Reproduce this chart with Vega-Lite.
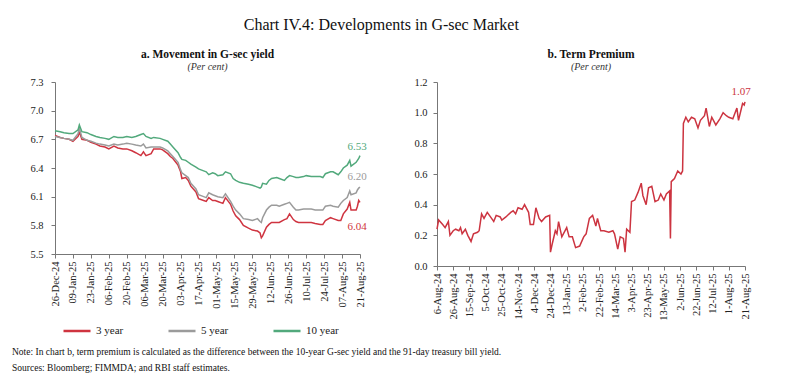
{
  "$schema": "https://vega.github.io/schema/vega-lite/v6.json",
  "background": "white",
  "padding": {"left": 12, "top": 16, "right": 5, "bottom": 2},
  "title": {"text": "Chart IV.4: Developments in G-sec Market", "font": "Liberation Serif", "fontSize": 16, "fontWeight": "normal", "color": "#111", "anchor": "middle", "offset": 16},
  "config": {
    "font": "Liberation Serif",
    "view": {"stroke": null},
    "axis": {"labelFont": "Liberation Serif", "labelFontSize": 10.5, "labelColor": "#222", "domainColor": "#777", "tickColor": "#777", "tickSize": 4, "grid": false, "title": null, "labelPadding": 3},
    "legend": {"labelFont": "Liberation Serif", "labelFontSize": 11, "labelColor": "#222"},
    "text": {"font": "Liberation Serif"}
  },
  "datasets": {
    "yields": [
      {"date": "2024-12-26", "y3": 6.74, "y5": 6.73, "y10": 6.79},
      {"date": "2024-12-30", "y3": 6.72, "y5": 6.72, "y10": 6.78},
      {"date": "2025-01-02", "y3": 6.71, "y5": 6.71, "y10": 6.77},
      {"date": "2025-01-06", "y3": 6.70, "y5": 6.70, "y10": 6.76},
      {"date": "2025-01-09", "y3": 6.68, "y5": 6.69, "y10": 6.76},
      {"date": "2025-01-13", "y3": 6.73, "y5": 6.76, "y10": 6.80},
      {"date": "2025-01-14", "y3": 6.78, "y5": 6.82, "y10": 6.85},
      {"date": "2025-01-16", "y3": 6.70, "y5": 6.72, "y10": 6.78},
      {"date": "2025-01-20", "y3": 6.69, "y5": 6.69, "y10": 6.77},
      {"date": "2025-01-23", "y3": 6.67, "y5": 6.68, "y10": 6.75},
      {"date": "2025-01-27", "y3": 6.65, "y5": 6.66, "y10": 6.73},
      {"date": "2025-01-30", "y3": 6.63, "y5": 6.65, "y10": 6.72},
      {"date": "2025-02-03", "y3": 6.62, "y5": 6.64, "y10": 6.71},
      {"date": "2025-02-06", "y3": 6.60, "y5": 6.63, "y10": 6.70},
      {"date": "2025-02-10", "y3": 6.63, "y5": 6.65, "y10": 6.73},
      {"date": "2025-02-13", "y3": 6.61, "y5": 6.64, "y10": 6.72},
      {"date": "2025-02-17", "y3": 6.60, "y5": 6.65, "y10": 6.72},
      {"date": "2025-02-20", "y3": 6.60, "y5": 6.66, "y10": 6.73},
      {"date": "2025-02-24", "y3": 6.58, "y5": 6.65, "y10": 6.72},
      {"date": "2025-02-27", "y3": 6.56, "y5": 6.64, "y10": 6.73},
      {"date": "2025-03-03", "y3": 6.53, "y5": 6.63, "y10": 6.75},
      {"date": "2025-03-05", "y3": 6.57, "y5": 6.65, "y10": 6.76},
      {"date": "2025-03-07", "y3": 6.53, "y5": 6.61, "y10": 6.73},
      {"date": "2025-03-11", "y3": 6.55, "y5": 6.62, "y10": 6.71},
      {"date": "2025-03-13", "y3": 6.60, "y5": 6.62, "y10": 6.72},
      {"date": "2025-03-18", "y3": 6.60, "y5": 6.62, "y10": 6.71},
      {"date": "2025-03-20", "y3": 6.59, "y5": 6.61, "y10": 6.70},
      {"date": "2025-03-24", "y3": 6.55, "y5": 6.58, "y10": 6.68},
      {"date": "2025-03-26", "y3": 6.52, "y5": 6.55, "y10": 6.65},
      {"date": "2025-03-28", "y3": 6.50, "y5": 6.52, "y10": 6.62},
      {"date": "2025-04-01", "y3": 6.43, "y5": 6.46, "y10": 6.56},
      {"date": "2025-04-03", "y3": 6.36, "y5": 6.38, "y10": 6.51},
      {"date": "2025-04-04", "y3": 6.29, "y5": 6.35, "y10": 6.49},
      {"date": "2025-04-07", "y3": 6.30, "y5": 6.32, "y10": 6.48},
      {"date": "2025-04-09", "y3": 6.27, "y5": 6.30, "y10": 6.46},
      {"date": "2025-04-11", "y3": 6.21, "y5": 6.24, "y10": 6.44},
      {"date": "2025-04-15", "y3": 6.15, "y5": 6.18, "y10": 6.41},
      {"date": "2025-04-17", "y3": 6.08, "y5": 6.12, "y10": 6.39},
      {"date": "2025-04-21", "y3": 6.06, "y5": 6.10, "y10": 6.37},
      {"date": "2025-04-23", "y3": 6.05, "y5": 6.09, "y10": 6.36},
      {"date": "2025-04-25", "y3": 6.09, "y5": 6.14, "y10": 6.33},
      {"date": "2025-04-28", "y3": 6.06, "y5": 6.12, "y10": 6.35},
      {"date": "2025-04-30", "y3": 6.06, "y5": 6.11, "y10": 6.34},
      {"date": "2025-05-02", "y3": 6.05, "y5": 6.10, "y10": 6.32},
      {"date": "2025-05-06", "y3": 6.03, "y5": 6.09, "y10": 6.33},
      {"date": "2025-05-08", "y3": 6.09, "y5": 6.13, "y10": 6.36},
      {"date": "2025-05-12", "y3": 6.02, "y5": 6.05, "y10": 6.34},
      {"date": "2025-05-14", "y3": 5.95, "y5": 6.00, "y10": 6.29},
      {"date": "2025-05-16", "y3": 5.90, "y5": 5.96, "y10": 6.27},
      {"date": "2025-05-19", "y3": 5.86, "y5": 5.92, "y10": 6.25},
      {"date": "2025-05-22", "y3": 5.80, "y5": 5.87, "y10": 6.24},
      {"date": "2025-05-26", "y3": 5.77, "y5": 5.86, "y10": 6.23},
      {"date": "2025-05-29", "y3": 5.75, "y5": 5.85, "y10": 6.22},
      {"date": "2025-06-02", "y3": 5.74, "y5": 5.87, "y10": 6.20},
      {"date": "2025-06-04", "y3": 5.72, "y5": 5.84, "y10": 6.19},
      {"date": "2025-06-05", "y3": 5.67, "y5": 5.83, "y10": 6.20},
      {"date": "2025-06-06", "y3": 5.69, "y5": 5.88, "y10": 6.24},
      {"date": "2025-06-09", "y3": 5.78, "y5": 5.96, "y10": 6.23},
      {"date": "2025-06-11", "y3": 5.81, "y5": 5.99, "y10": 6.27},
      {"date": "2025-06-13", "y3": 5.83, "y5": 6.01, "y10": 6.29},
      {"date": "2025-06-17", "y3": 5.83, "y5": 6.01, "y10": 6.30},
      {"date": "2025-06-19", "y3": 5.83, "y5": 6.00, "y10": 6.29},
      {"date": "2025-06-23", "y3": 5.86, "y5": 6.02, "y10": 6.27},
      {"date": "2025-06-25", "y3": 5.87, "y5": 6.03, "y10": 6.30},
      {"date": "2025-06-27", "y3": 5.92, "y5": 6.04, "y10": 6.32},
      {"date": "2025-06-30", "y3": 5.86, "y5": 5.99, "y10": 6.31},
      {"date": "2025-07-02", "y3": 5.84, "y5": 5.96, "y10": 6.30},
      {"date": "2025-07-04", "y3": 5.83, "y5": 5.96, "y10": 6.30},
      {"date": "2025-07-08", "y3": 5.83, "y5": 5.97, "y10": 6.31},
      {"date": "2025-07-10", "y3": 5.83, "y5": 5.97, "y10": 6.32},
      {"date": "2025-07-14", "y3": 5.83, "y5": 5.97, "y10": 6.31},
      {"date": "2025-07-17", "y3": 5.82, "y5": 5.96, "y10": 6.31},
      {"date": "2025-07-21", "y3": 5.81, "y5": 5.96, "y10": 6.31},
      {"date": "2025-07-23", "y3": 5.81, "y5": 5.96, "y10": 6.30},
      {"date": "2025-07-25", "y3": 5.85, "y5": 6.00, "y10": 6.34},
      {"date": "2025-07-29", "y3": 5.88, "y5": 6.01, "y10": 6.36},
      {"date": "2025-07-31", "y3": 5.87, "y5": 6.00, "y10": 6.36},
      {"date": "2025-08-04", "y3": 5.85, "y5": 5.99, "y10": 6.33},
      {"date": "2025-08-06", "y3": 5.85, "y5": 6.03, "y10": 6.36},
      {"date": "2025-08-08", "y3": 5.92, "y5": 6.06, "y10": 6.40},
      {"date": "2025-08-11", "y3": 5.97, "y5": 6.09, "y10": 6.43},
      {"date": "2025-08-13", "y3": 6.04, "y5": 6.16, "y10": 6.48},
      {"date": "2025-08-14", "y3": 5.96, "y5": 6.12, "y10": 6.42},
      {"date": "2025-08-18", "y3": 5.96, "y5": 6.14, "y10": 6.46},
      {"date": "2025-08-19", "y3": 6.00, "y5": 6.17, "y10": 6.48},
      {"date": "2025-08-20", "y3": 6.06, "y5": 6.19, "y10": 6.50},
      {"date": "2025-08-21", "y3": 6.04, "y5": 6.20, "y10": 6.53}
    ],
    "premium": [
      {"date": "2024-08-06", "tp": 0.24}, {"date": "2024-08-08", "tp": 0.30}, {"date": "2024-08-13", "tp": 0.27},
      {"date": "2024-08-16", "tp": 0.25}, {"date": "2024-08-20", "tp": 0.29}, {"date": "2024-08-22", "tp": 0.20},
      {"date": "2024-08-26", "tp": 0.23}, {"date": "2024-08-29", "tp": 0.24}, {"date": "2024-09-02", "tp": 0.23},
      {"date": "2024-09-04", "tp": 0.25}, {"date": "2024-09-06", "tp": 0.21}, {"date": "2024-09-10", "tp": 0.24},
      {"date": "2024-09-13", "tp": 0.20}, {"date": "2024-09-17", "tp": 0.16}, {"date": "2024-09-20", "tp": 0.21},
      {"date": "2024-09-25", "tp": 0.22}, {"date": "2024-09-27", "tp": 0.23}, {"date": "2024-09-30", "tp": 0.34},
      {"date": "2024-10-03", "tp": 0.31}, {"date": "2024-10-07", "tp": 0.35}, {"date": "2024-10-11", "tp": 0.32},
      {"date": "2024-10-15", "tp": 0.29}, {"date": "2024-10-18", "tp": 0.33}, {"date": "2024-10-23", "tp": 0.32},
      {"date": "2024-10-25", "tp": 0.30}, {"date": "2024-10-30", "tp": 0.32}, {"date": "2024-11-05", "tp": 0.35},
      {"date": "2024-11-08", "tp": 0.36}, {"date": "2024-11-11", "tp": 0.34}, {"date": "2024-11-14", "tp": 0.38},
      {"date": "2024-11-19", "tp": 0.37}, {"date": "2024-11-22", "tp": 0.40}, {"date": "2024-11-27", "tp": 0.35},
      {"date": "2024-11-29", "tp": 0.27}, {"date": "2024-12-03", "tp": 0.27}, {"date": "2024-12-06", "tp": 0.38},
      {"date": "2024-12-10", "tp": 0.31}, {"date": "2024-12-13", "tp": 0.29}, {"date": "2024-12-18", "tp": 0.32},
      {"date": "2024-12-23", "tp": 0.33}, {"date": "2024-12-24", "tp": 0.09}, {"date": "2024-12-26", "tp": 0.14},
      {"date": "2024-12-30", "tp": 0.23}, {"date": "2025-01-01", "tp": 0.21}, {"date": "2025-01-03", "tp": 0.29},
      {"date": "2025-01-07", "tp": 0.19}, {"date": "2025-01-13", "tp": 0.25}, {"date": "2025-01-16", "tp": 0.19},
      {"date": "2025-01-20", "tp": 0.19}, {"date": "2025-01-24", "tp": 0.12}, {"date": "2025-01-29", "tp": 0.13},
      {"date": "2025-02-03", "tp": 0.19}, {"date": "2025-02-06", "tp": 0.21}, {"date": "2025-02-10", "tp": 0.31},
      {"date": "2025-02-14", "tp": 0.33}, {"date": "2025-02-18", "tp": 0.26}, {"date": "2025-02-20", "tp": 0.31},
      {"date": "2025-02-24", "tp": 0.23}, {"date": "2025-02-28", "tp": 0.23}, {"date": "2025-03-06", "tp": 0.22},
      {"date": "2025-03-11", "tp": 0.23}, {"date": "2025-03-13", "tp": 0.21}, {"date": "2025-03-17", "tp": 0.11},
      {"date": "2025-03-20", "tp": 0.19}, {"date": "2025-03-24", "tp": 0.18}, {"date": "2025-03-26", "tp": 0.09},
      {"date": "2025-03-28", "tp": 0.24}, {"date": "2025-04-01", "tp": 0.22}, {"date": "2025-04-03", "tp": 0.42},
      {"date": "2025-04-07", "tp": 0.43}, {"date": "2025-04-11", "tp": 0.48}, {"date": "2025-04-15", "tp": 0.54},
      {"date": "2025-04-17", "tp": 0.46}, {"date": "2025-04-21", "tp": 0.40}, {"date": "2025-04-24", "tp": 0.51},
      {"date": "2025-04-28", "tp": 0.52}, {"date": "2025-05-02", "tp": 0.42}, {"date": "2025-05-06", "tp": 0.43},
      {"date": "2025-05-09", "tp": 0.47}, {"date": "2025-05-13", "tp": 0.43}, {"date": "2025-05-16", "tp": 0.47},
      {"date": "2025-05-20", "tp": 0.49}, {"date": "2025-05-21", "tp": 0.18}, {"date": "2025-05-22", "tp": 0.55},
      {"date": "2025-05-26", "tp": 0.57}, {"date": "2025-05-30", "tp": 0.62}, {"date": "2025-06-03", "tp": 0.60},
      {"date": "2025-06-05", "tp": 0.62}, {"date": "2025-06-06", "tp": 0.93}, {"date": "2025-06-09", "tp": 0.97},
      {"date": "2025-06-12", "tp": 0.94}, {"date": "2025-06-16", "tp": 0.97}, {"date": "2025-06-20", "tp": 0.96},
      {"date": "2025-06-24", "tp": 0.90}, {"date": "2025-06-27", "tp": 0.95}, {"date": "2025-07-02", "tp": 0.98},
      {"date": "2025-07-04", "tp": 1.03}, {"date": "2025-07-08", "tp": 0.91}, {"date": "2025-07-11", "tp": 0.97},
      {"date": "2025-07-16", "tp": 0.92}, {"date": "2025-07-21", "tp": 0.96}, {"date": "2025-07-25", "tp": 1.00},
      {"date": "2025-07-29", "tp": 0.98}, {"date": "2025-08-01", "tp": 0.97}, {"date": "2025-08-06", "tp": 0.96},
      {"date": "2025-08-11", "tp": 1.03}, {"date": "2025-08-13", "tp": 0.95}, {"date": "2025-08-18", "tp": 1.06},
      {"date": "2025-08-20", "tp": 1.05}, {"date": "2025-08-21", "tp": 1.07}
    ]
  },
  "resolve": {"scale": {"color": "independent"}, "legend": {"color": "independent"}},
  "vconcat": [
    {
      "title": {"text": ["Note: In chart b, term premium is calculated as the difference between the 10-year G-sec yield and the 91-day treasury bill yield.", "Sources: Bloomberg; FIMMDA; and RBI staff estimates."], "orient": "bottom", "anchor": "start", "font": "Liberation Serif", "fontSize": 9.5, "fontWeight": "normal", "color": "#111", "lineHeight": 16, "offset": 4},
      "spacing": 46,
      "resolve": {"scale": {"color": "independent"}, "legend": {"color": "independent"}},
      "hconcat": [
        {
          "width": 305,
          "height": 172,
          "title": {"text": "a. Movement in G-sec yield", "subtitle": "(Per cent)", "font": "Liberation Serif", "fontSize": 11.5, "fontWeight": "bold", "color": "#111", "subtitleFont": "Liberation Serif", "subtitleFontStyle": "italic", "subtitleFontSize": 10, "subtitleColor": "#333", "subtitlePadding": 2, "anchor": "middle", "offset": 5},
          "data": {"name": "yields"},
          "transform": [
            {"fold": ["y3", "y5", "y10"], "as": ["key", "value"]},
            {"calculate": "datum.key === 'y3' ? '3 year' : datum.key === 'y5' ? '5 year' : '10 year'", "as": "series"}
          ],
          "encoding": {
            "x": {"field": "date", "type": "temporal", "scale": {"type": "utc", "domain": [{"year": 2024, "month": 12, "date": 26, "utc": true}, {"year": 2025, "month": 8, "date": 21, "utc": true}], "nice": false},
              "axis": {"labelExpr": "utcFormat(datum.value, '%d-%b-%y')", "labelFont": "Liberation Serif", "labelAngle": -90, "values": [
                {"year": 2024, "month": 12, "date": 26, "utc": true}, {"year": 2025, "month": 1, "date": 9, "utc": true}, {"year": 2025, "month": 1, "date": 23, "utc": true},
                {"year": 2025, "month": 2, "date": 6, "utc": true}, {"year": 2025, "month": 2, "date": 20, "utc": true}, {"year": 2025, "month": 3, "date": 6, "utc": true},
                {"year": 2025, "month": 3, "date": 20, "utc": true}, {"year": 2025, "month": 4, "date": 3, "utc": true}, {"year": 2025, "month": 4, "date": 17, "utc": true},
                {"year": 2025, "month": 5, "date": 1, "utc": true}, {"year": 2025, "month": 5, "date": 15, "utc": true}, {"year": 2025, "month": 5, "date": 29, "utc": true},
                {"year": 2025, "month": 6, "date": 12, "utc": true}, {"year": 2025, "month": 6, "date": 26, "utc": true}, {"year": 2025, "month": 7, "date": 10, "utc": true},
                {"year": 2025, "month": 7, "date": 24, "utc": true}, {"year": 2025, "month": 8, "date": 7, "utc": true}, {"year": 2025, "month": 8, "date": 21, "utc": true}]}},
            "y": {"field": "value", "type": "quantitative", "scale": {"domain": [5.5, 7.3], "nice": false, "zero": false},
              "axis": {"values": [5.5, 5.8, 6.1, 6.4, 6.7, 7.0, 7.3], "format": ".1f", "labelFont": "Liberation Serif", "labelPadding": 8, "minExtent": 43}},
            "color": {"field": "series", "type": "nominal", "scale": {"domain": ["3 year", "5 year", "10 year"], "range": ["#cf3440", "#9b9b9b", "#52a97c"]},
              "legend": {"title": null, "orient": "bottom", "direction": "horizontal", "symbolType": "stroke", "symbolStrokeWidth": 2.5, "symbolSize": 730, "columnPadding": 39, "labelFontSize": 11, "offset": 0, "padding": 7}}
          },
          "layer": [
            {"mark": {"type": "line", "strokeWidth": 1.5}},
            {"transform": [{"filter": "datum.key === 'y10' && time(datum.date) === utc(2025, 7, 21)"}],
             "mark": {"type": "text", "dy": -9, "dx": -3, "fontSize": 11, "align": "center"},
             "encoding": {"text": {"field": "value", "type": "quantitative", "format": ".2f"}}},
            {"transform": [{"filter": "datum.key === 'y5' && time(datum.date) === utc(2025, 7, 21)"}],
             "mark": {"type": "text", "dy": -10, "dx": -3, "fontSize": 11, "align": "center"},
             "encoding": {"text": {"field": "value", "type": "quantitative", "format": ".2f"}}},
            {"transform": [{"filter": "datum.key === 'y3' && time(datum.date) === utc(2025, 7, 21)"}],
             "mark": {"type": "text", "dy": 25, "dx": -3, "fontSize": 11, "align": "center"},
             "encoding": {"text": {"field": "value", "type": "quantitative", "format": ".2f"}}}
          ]
        },
        {
          "width": 308,
          "height": 184,
          "title": {"text": "b. Term Premium", "subtitle": "(Per cent)", "font": "Liberation Serif", "fontSize": 11.5, "fontWeight": "bold", "color": "#111", "subtitleFont": "Liberation Serif", "subtitleFontStyle": "italic", "subtitleFontSize": 10, "subtitleColor": "#333", "subtitlePadding": 2, "anchor": "middle", "offset": 5},
          "data": {"name": "premium"},
          "encoding": {
            "x": {"field": "date", "type": "temporal", "scale": {"type": "utc", "domain": [{"year": 2024, "month": 8, "date": 6, "utc": true}, {"year": 2025, "month": 8, "date": 21, "utc": true}], "nice": false},
              "axis": {"labelExpr": "utcFormat(datum.value, '%-d-%b-%y')", "labelFont": "Liberation Serif", "labelAngle": -90, "values": [
                {"year": 2024, "month": 8, "date": 6, "utc": true}, {"year": 2024, "month": 8, "date": 26, "utc": true}, {"year": 2024, "month": 9, "date": 15, "utc": true},
                {"year": 2024, "month": 10, "date": 5, "utc": true}, {"year": 2024, "month": 10, "date": 25, "utc": true}, {"year": 2024, "month": 11, "date": 14, "utc": true},
                {"year": 2024, "month": 12, "date": 4, "utc": true}, {"year": 2024, "month": 12, "date": 24, "utc": true}, {"year": 2025, "month": 1, "date": 13, "utc": true},
                {"year": 2025, "month": 2, "date": 2, "utc": true}, {"year": 2025, "month": 2, "date": 22, "utc": true}, {"year": 2025, "month": 3, "date": 14, "utc": true},
                {"year": 2025, "month": 4, "date": 3, "utc": true}, {"year": 2025, "month": 4, "date": 23, "utc": true}, {"year": 2025, "month": 5, "date": 13, "utc": true},
                {"year": 2025, "month": 6, "date": 2, "utc": true}, {"year": 2025, "month": 6, "date": 22, "utc": true}, {"year": 2025, "month": 7, "date": 12, "utc": true},
                {"year": 2025, "month": 8, "date": 1, "utc": true}, {"year": 2025, "month": 8, "date": 21, "utc": true}]}},
            "y": {"field": "tp", "type": "quantitative", "scale": {"domain": [0, 1.2], "nice": false},
              "axis": {"values": [0, 0.2, 0.4, 0.6, 0.8, 1.0, 1.2], "format": ".1f", "labelFont": "Liberation Serif", "labelPadding": 6}}
          },
          "layer": [
            {"mark": {"type": "line", "strokeWidth": 1.5, "color": "#cc3440"}},
            {"transform": [{"filter": "time(datum.date) === utc(2025, 7, 21)"}],
             "mark": {"type": "text", "dy": -10, "dx": -4, "fontSize": 11, "color": "#cc3440", "align": "center"},
             "encoding": {"text": {"field": "tp", "type": "quantitative", "format": ".2f"}}}
          ]
        }
      ]
    }
  ]
}
